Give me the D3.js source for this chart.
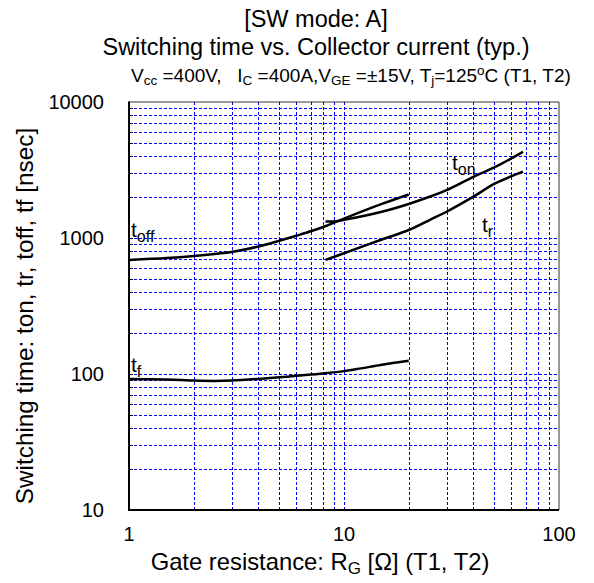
<!DOCTYPE html>
<html><head><meta charset="utf-8">
<script src="https://cdn.jsdelivr.net/npm/d3@7"></script>
<style>
body{margin:0;background:#fff;}
text{font-family:"Liberation Sans",Arial,sans-serif;fill:#000;white-space:pre;}
</style></head>
<body><svg id="c" width="594" height="583"></svg>
<script>
// ---- data ----
const toffR = [1, 1.5, 2, 3, 4, 5, 6, 7, 8, 10, 15, 20];
const toffV = [690, 712, 738, 790, 865, 955, 1040, 1120, 1205, 1390, 1780, 2090];
const tonR = [8.2, 9, 10, 15, 20, 25, 30, 40, 50, 68];
const tonV = [1320, 1325, 1360, 1560, 1780, 2010, 2250, 2820, 3300, 4300];
const trR = [8.2, 10, 15, 20, 25, 30, 40, 50, 68];
const trV = [690, 773, 975, 1145, 1356, 1560, 2013, 2500, 3073];
const tfR = [1, 1.5, 2, 2.5, 3, 4, 5, 6, 8, 10, 12, 15, 20];
const tfV = [92, 91, 89.5, 89, 89.5, 92, 94.5, 97, 101, 105, 110, 117, 125];
const xTicks = [1, 10, 100];
const yTicks = [10, 100, 1000, 10000];

const svg = d3.select("#c");
const L = 129, R = 559, T = 102, B = 510;
const x = d3.scaleLog().domain([1, 100]).range([L, R]);
const y = d3.scaleLog().domain([10, 10000]).range([B, T]);

// grid
const minor = [];
for (let d = 1; d < 100; d *= 10) for (let k = 2; k <= 9; k++) minor.push(d * k);
minor.push(10);
const yminor = [];
for (let d = 10; d < 10000; d *= 10) for (let k = 2; k <= 9; k++) yminor.push(d * k);
yminor.push(100, 1000);
const px = v => Math.round(v) + 0.5;
const g = svg.append("g");
g.selectAll("line.vx").data(minor).join("line")
  .attr("x1", d => px(x(d))).attr("x2", d => px(x(d))).attr("y1", T).attr("y2", B)
  .attr("stroke", "#0000ff").attr("stroke-width", 1).attr("stroke-dasharray", "3,2");
g.selectAll("line.hy").data(yminor).join("line")
  .attr("y1", d => px(y(d))).attr("y2", d => px(y(d))).attr("x1", L).attr("x2", R)
  .attr("stroke", "#0000ff").attr("stroke-width", 1).attr("stroke-dasharray", "3,2");
// left inward ticks
g.selectAll("line.tk").data(yminor).join("line")
  .attr("y1", d => px(y(d))).attr("y2", d => px(y(d))).attr("x1", L).attr("x2", L + 4)
  .attr("stroke", "#000").attr("stroke-width", 1);

// frame
svg.append("line").attr("x1", L).attr("x2", R).attr("y1", T).attr("y2", T).attr("stroke", "#333").attr("stroke-width", 1);
svg.append("line").attr("x1", R).attr("x2", R).attr("y1", T).attr("y2", B).attr("stroke", "#333").attr("stroke-width", 1);
svg.append("line").attr("x1", L).attr("x2", L).attr("y1", T - 0.5).attr("y2", B + 1).attr("stroke", "#000").attr("stroke-width", 2);
svg.append("line").attr("x1", L - 1).attr("x2", R).attr("y1", B).attr("y2", B).attr("stroke", "#000").attr("stroke-width", 2);

// axes labels
svg.selectAll("text.yt").data(yTicks).join("text")
  .attr("x", 104).attr("y", d => y(d) + 7).attr("text-anchor", "end")
  .attr("font-size", 20).text(d => d);
svg.selectAll("text.xt").data(xTicks).join("text")
  .attr("x", d => x(d)).attr("y", 541).attr("text-anchor", "middle")
  .attr("font-size", 20).text(d => d);

// curves
const line = d3.line().x(d => x(d[0])).y(d => y(d[1])).curve(d3.curveCatmullRom.alpha(0.5));
const series = [
  d3.zip(toffR, toffV), d3.zip(tonR, tonV), d3.zip(trR, trV), d3.zip(tfR, tfV)
];
svg.selectAll("path.s").data(series).join("path")
  .attr("d", line).attr("fill", "none").attr("stroke", "#000").attr("stroke-width", 2.5);

// curve labels
function lab(xp, yp, main, sub) {
  const t = svg.append("text").attr("x", xp).attr("y", yp).attr("font-size", 21);
  t.append("tspan").text(main);
  t.append("tspan").attr("dy", 5).attr("font-size", 16).text(sub);
}
lab(131, 237, "t", "off");
lab(452, 170, "t", "on");
lab(482, 232, "t", "r");
lab(131, 372, "t", "f");

// titles
svg.append("text").attr("x", 316).attr("y", 27).attr("text-anchor", "middle").attr("font-size", 23.5).text("[SW mode: A]");
svg.append("text").attr("x", 316).attr("y", 55).attr("text-anchor", "middle").attr("font-size", 23.5).text("Switching time vs. Collector current (typ.)");
const t3 = svg.append("text").attr("x", 131).attr("y", 82).attr("font-size", 19);
t3.append("tspan").text("V");
t3.append("tspan").attr("font-size", 13.5).attr("dy", 3).text("cc");
t3.append("tspan").attr("dy", -3).text(" =400V,   I");
t3.append("tspan").attr("font-size", 13.5).attr("dy", 3).text("C");
t3.append("tspan").attr("dy", -3).text(" =400A,V");
t3.append("tspan").attr("font-size", 13.5).attr("dy", 3).text("GE");
t3.append("tspan").attr("dy", -3).text(" =±15V, T");
t3.append("tspan").attr("font-size", 13.5).attr("dy", 3).text("j");
t3.append("tspan").attr("dy", -3).text("=125");
t3.append("tspan").attr("font-size", 13.5).attr("dy", -7).text("o");
t3.append("tspan").attr("dy", 7).text("C (T1, T2)");

// x label
const xl = svg.append("text").attr("x", 320).attr("y", 570).attr("text-anchor", "middle").attr("font-size", 23.8);
xl.append("tspan").text("Gate resistance: R");
xl.append("tspan").attr("font-size", 17).attr("dy", 4).text("G");
xl.append("tspan").attr("dy", -4).text(" [Ω] (T1, T2)");

// y label
svg.append("text").attr("transform", "translate(32.5,316) rotate(-90)").attr("text-anchor", "middle")
  .attr("font-size", 24.3).text("Switching time: ton, tr, toff, tf [nsec]");
</script></body></html>
